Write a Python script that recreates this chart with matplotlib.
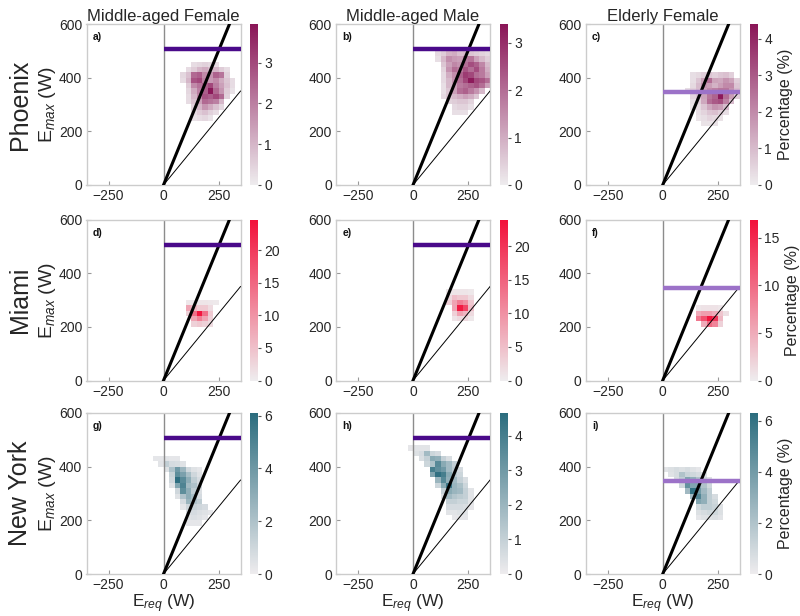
import numpy as np
import matplotlib
matplotlib.use('Agg')
import matplotlib.pyplot as plt
from matplotlib.colors import LinearSegmentedColormap

plt.rcParams['font.family'] = ['Liberation Sans', 'DejaVu Sans']
plt.rcParams['mathtext.fontset'] = 'custom'
plt.rcParams['mathtext.rm'] = 'Liberation Sans'
plt.rcParams['mathtext.it'] = 'Liberation Sans:italic'

# ---------------- data ----------------
cities = ["Phoenix", "Miami", "New York"]
groups = ["Middle-aged Female", "Middle-aged Male", "Elderly Female"]
panel_letters = ["a)", "b)", "c)", "d)", "e)", "f)", "g)", "h)", "i)"]
emax_limits = [505, 505, 345]          # horizontal E_max line per group
cbar_max = [[3.95, 3.4, 4.4], [24.7, 24.0, 16.9], [6.1, 4.65, 6.3]]
bin_w = 25   # W, E_req bin width
bin_h = 20   # W, E_max bin height

# each grid: first x edge, top row lower edge, rows listed from top to bottom (percent)
a_x0, a_ytop = 75, 440
a_vals = [
    [0, 0, 0.3, 0.4, 0.5, 0.4, 0.3, 0, 0, 0],
    [0, 0.3, 0.6, 1.0, 1.2, 0.9, 1.0, 0.6, 0.3, 0],
    [0.4, 0.8, 2.4, 2.6, 1.8, 1.6, 2.5, 2.2, 0.5, 0],
    [0.3, 1.0, 2.8, 3.0, 2.0, 1.5, 1.8, 1.2, 0.7, 0.3],
    [0, 0.6, 1.8, 2.2, 2.6, 3.0, 2.0, 1.4, 0.8, 0.3],
    [0, 0.4, 1.2, 2.0, 2.6, 3.9, 2.4, 1.6, 0.6, 0.2],
    [0, 0.3, 1.0, 1.8, 2.8, 2.6, 3.0, 2.4, 0.5, 0],
    [0, 0.3, 0.8, 1.4, 2.4, 2.2, 2.0, 1.0, 0, 0],
    [0, 0, 0.5, 1.0, 1.6, 1.2, 0.8, 0.4, 0, 0],
    [0, 0, 0.3, 0.6, 0.8, 0.5, 0.3, 0, 0, 0],
    [0, 0, 0.2, 0.3, 0.4, 0.2, 0, 0, 0, 0],
]
b_x0, b_ytop = 100, 480
b_vals = [
    [0.3, 0.5, 0.9, 1.0, 0.7, 0.8, 0.6, 0.5, 0.4, 0.3],
    [0.2, 0.8, 1.5, 1.3, 1.2, 1.8, 1.9, 1.2, 0.8, 0.5],
    [0, 0.6, 1.2, 1.6, 1.4, 2.0, 2.5, 2.2, 1.6, 0.8],
    [0, 0.4, 1.4, 2.0, 1.8, 2.4, 2.0, 2.5, 1.8, 1.0],
    [0, 0.3, 1.0, 1.5, 2.2, 2.8, 2.6, 2.0, 1.8, 1.2],
    [0, 0.3, 0.8, 1.4, 2.0, 2.6, 3.3, 2.6, 2.4, 2.0],
    [0, 0.2, 0.8, 1.2, 1.8, 2.0, 2.2, 2.4, 2.0, 1.2],
    [0, 0.2, 0.6, 1.2, 2.0, 2.2, 1.8, 1.4, 0.8, 0],
    [0, 0.3, 0.6, 0.8, 1.0, 1.2, 1.0, 0.6, 0, 0],
    [0, 0, 0.4, 0.5, 0.6, 0.6, 0.4, 0, 0, 0],
    [0, 0, 0, 0.3, 0.4, 0.4, 0.2, 0, 0, 0],
    [0, 0, 0, 0.2, 0.2, 0.2, 0, 0, 0, 0],
]
c_x0, c_ytop = 100, 400
c_vals = [
    [0, 0.3, 0.4, 0.6, 0.8, 0.6, 0.8, 0.9, 0.6, 0],
    [0, 0.3, 0.8, 1.5, 2.6, 1.5, 1.4, 1.8, 1.5, 0.6],
    [0, 0.4, 1.0, 1.8, 1.6, 1.2, 1.6, 2.0, 2.0, 0.8],
    [0.3, 0.6, 1.0, 1.6, 2.0, 2.2, 2.4, 2.4, 1.8, 1.0],
    [0, 0.5, 0.8, 1.5, 2.4, 2.8, 4.3, 2.6, 1.6, 0.6],
    [0, 0.3, 0.6, 1.4, 2.6, 3.0, 3.2, 2.2, 1.0, 0],
    [0, 0.2, 0.4, 0.8, 1.4, 1.8, 1.6, 1.0, 0, 0],
    [0, 0, 0.3, 0.5, 0.8, 0.9, 0.6, 0.3, 0, 0],
    [0, 0, 0.2, 0.3, 0.5, 0.4, 0.2, 0, 0, 0],
    [0, 0, 0, 0.2, 0.2, 0.2, 0, 0, 0, 0],
]
d_x0, d_ytop = 100, 280
d_vals = [
    [0.6, 0.8, 0.8, 0.8, 0.6, 0.4],
    [8, 6, 4, 4, 2, 0],
    [3, 14, 24, 14, 4, 0],
    [0, 8, 12, 8, 3, 0],
    [0, 3, 4, 3, 2, 0],
]
e_x0, e_ytop = 150, 320
e_vals = [
    [0.5, 0.8, 0.8, 0.8, 0.5, 0],
    [2, 5, 4, 4, 2, 0],
    [3, 8, 12, 10, 4, 0],
    [0, 8, 23, 18, 5, 0],
    [0, 3, 8, 6, 2, 0],
    [0, 1, 2, 2, 0.5, 0],
]
f_x0, f_ytop = 150, 260
f_vals = [
    [0.5, 0.8, 0.8, 0.8, 0.5, 0],
    [5, 6, 6, 5, 3, 1],
    [9, 12, 16.5, 14, 4, 0],
    [0, 5, 10, 8, 2, 0],
]
g_x0, g_ytop = -50, 420
g_vals = [
    [0.3, 0.3, 0.4, 0.3, 0.3, 0, 0, 0, 0, 0, 0],
    [0, 0.4, 1.4, 0.8, 0.7, 0.5, 0, 0, 0, 0, 0],
    [0, 0, 0.5, 2.0, 4.0, 2.6, 1.0, 0.5, 0.3, 0, 0],
    [0, 0, 0, 1.2, 4.5, 3.6, 2.2, 1.0, 0.5, 0, 0],
    [0, 0, 0, 1.0, 6.0, 4.6, 3.0, 1.5, 0.8, 0, 0],
    [0, 0, 0, 0.5, 3.4, 5.0, 2.4, 2.0, 1.0, 0, 0],
    [0, 0, 0, 0, 1.0, 4.5, 3.0, 1.5, 0.6, 0, 0],
    [0, 0, 0, 0, 0.5, 2.0, 3.0, 2.2, 0.8, 0, 0],
    [0, 0, 0, 0, 0, 0.8, 2.6, 2.0, 1.5, 0, 0],
    [0, 0, 0, 0, 0, 0.3, 1.0, 1.2, 1.0, 0.8, 0],
    [0, 0, 0, 0, 0, 0, 0.6, 0.8, 0.6, 0.5, 0.3],
    [0, 0, 0, 0, 0, 0, 0.5, 0.6, 0.5, 0.3, 0],
    [0, 0, 0, 0, 0, 0, 0.3, 0.3, 0.3, 0, 0],
]
h_x0, h_ytop = -25, 460
h_vals = [
    [0.2, 0.3, 0.3, 0.3, 0, 0, 0, 0, 0, 0, 0, 0],
    [0, 0.4, 0.6, 1.8, 0.8, 0.6, 0, 0, 0, 0, 0, 0],
    [0, 0, 0.5, 1.0, 2.4, 2.2, 1.0, 0.5, 0, 0, 0, 0],
    [0, 0, 0, 0.8, 1.5, 3.6, 2.4, 1.8, 1.0, 0, 0, 0],
    [0, 0, 0, 0, 4.0, 3.4, 3.0, 1.8, 1.2, 0.6, 0, 0],
    [0, 0, 0, 0, 2.6, 4.5, 4.0, 2.4, 1.2, 0.8, 0, 0],
    [0, 0, 0, 0, 0, 2.0, 3.6, 2.2, 1.8, 1.0, 0.5, 0],
    [0, 0, 0, 0, 0, 0.8, 2.4, 4.2, 2.0, 1.6, 0.8, 0],
    [0, 0, 0, 0, 0, 0, 1.0, 2.4, 2.0, 1.8, 1.0, 0.3],
    [0, 0, 0, 0, 0, 0, 0.5, 1.8, 1.4, 1.2, 1.0, 0.3],
    [0, 0, 0, 0, 0, 0, 0, 1.0, 1.0, 0.8, 0.8, 0.3],
    [0, 0, 0, 0, 0, 0, 0, 0.6, 0.6, 0.6, 0.5, 0.2],
    [0, 0, 0, 0, 0, 0, 0, 0.3, 0.3, 0.4, 0.3, 0],
    [0, 0, 0, 0, 0, 0, 0, 0, 0.2, 0.2, 0.2, 0],
]
i_x0, i_ytop = 0, 380
i_vals = [
    [0.4, 0.6, 0.8, 0.6, 0.8, 0.5, 0.3, 0, 0, 0, 0],
    [0, 0.5, 0.8, 2.0, 1.2, 1.0, 0.8, 0.5, 0, 0, 0],
    [0, 0, 0.8, 1.5, 3.5, 3.0, 2.0, 1.0, 0.5, 0, 0],
    [0, 0, 0, 1.0, 4.5, 3.5, 3.5, 2.0, 1.0, 0, 0],
    [0, 0, 0, 0, 2.5, 6.0, 4.0, 2.5, 1.5, 0, 0],
    [0, 0, 0, 0, 0, 2.5, 5.0, 3.0, 1.5, 0.8, 0],
    [0, 0, 0, 0, 0, 0, 3.5, 3.0, 1.5, 1.0, 0],
    [0, 0, 0, 0, 0, 0, 1.0, 1.5, 1.5, 1.2, 0.5],
    [0, 0, 0, 0, 0, 0, 0.6, 0.8, 1.0, 1.0, 0.6],
    [0, 0, 0, 0, 0, 0, 0.3, 0.5, 0.5, 0.6, 0.4],
]

grids = [
    [(a_x0, a_ytop, a_vals), (b_x0, b_ytop, b_vals), (c_x0, c_ytop, c_vals)],
    [(d_x0, d_ytop, d_vals), (e_x0, e_ytop, e_vals), (f_x0, f_ytop, f_vals)],
    [(g_x0, g_ytop, g_vals), (h_x0, h_ytop, h_vals), (i_x0, i_ytop, i_vals)],
]

# ---------------- style ----------------
city_colors = ['#8a1557', '#f2103a', '#2b6c7e']
cmaps = [LinearSegmentedColormap.from_list(c, ['#eeecee', col]) for c, col in zip(cities, city_colors)]
limit_colors = ['#4a0a8a', '#4a0a8a', '#9c72c8']

W, H = 800, 616
fig = plt.figure(figsize=(W / 100, H / 100), dpi=100)
col_left = [86.5, 336.0, 585.7]
ax_w = 154
cb_left = [250, 500, 750]
cb_w = 8
row_top = [24, 219.5, 413.0]
ax_h = 161


def rect(l, t, w, h):
    return [l / W, 1 - (t + h) / H, w / W, h / H]


tick_col = '#262626'
spine_col = '#cccccc'

for r in range(3):
    for c in range(3):
        ax = fig.add_axes(rect(col_left[c], row_top[r], ax_w, ax_h))
        cax = fig.add_axes(rect(cb_left[c], row_top[r], cb_w, ax_h))
        x0, ytop, vals = grids[r][c]
        arr = np.array(vals[::-1], dtype=float)
        nrow, ncol = arr.shape
        xe = x0 + bin_w * np.arange(ncol + 1)
        ye = (ytop - bin_h * (nrow - 1)) + bin_h * np.arange(nrow + 1)
        m = np.ma.masked_where(arr <= 0, arr)
        pcm = ax.pcolormesh(xe, ye, m, cmap=cmaps[r], vmin=0, vmax=cbar_max[r][c],
                            shading='flat', zorder=1)
        ax.axvline(0, color='#8c8c8c', lw=1.0, zorder=2)
        ax.plot([0, 300], [0, 600], color='black', lw=2.2, zorder=3)
        ax.plot([0, 350], [0, 350], color='black', lw=0.7, zorder=3)
        ax.plot([0, 350], [emax_limits[c], emax_limits[c]], color=limit_colors[c],
                lw=3.2, zorder=4, solid_capstyle='butt')
        ax.set_xlim(-350, 350)
        ax.set_ylim(0, 600)
        ax.set_xticks([-250, 0, 250])
        ax.set_yticks([0, 200, 400, 600])
        ax.tick_params(direction='in', length=3, width=0.8, color='#999999',
                       labelsize=10, labelcolor=tick_col, pad=3)
        for s in ax.spines.values():
            s.set_color(spine_col)
            s.set_linewidth(1.0)
        ax.text(0.04, 0.95, panel_letters[r * 3 + c], transform=ax.transAxes,
                fontsize=7.5, fontweight='bold', va='top', ha='left', color='#111111')
        if c == 0:
            ax.set_ylabel('E$_{max}$ (W)', fontsize=14, color=tick_col, labelpad=1)
        if r == 2:
            ax.set_xlabel('E$_{req}$ (W)', fontsize=12.5, color=tick_col, labelpad=0)

        cb = fig.colorbar(pcm, cax=cax)
        cb.outline.set_visible(False)
        cax.tick_params(length=2.5, width=0.8, color='#555555', labelsize=10,
                        labelcolor=tick_col, pad=2)
        if c == 2:
            cb.set_label('Percentage (%)', fontsize=11.5, color=tick_col, labelpad=4)

for c in range(3):
    fig.text((col_left[c] + ax_w / 2) / W, 1 - 20.5 / H, groups[c], ha='center',
             va='baseline', fontsize=12, color=tick_col)
for r in range(3):
    fig.text(20 / W, 1 - (row_top[r] + ax_h / 2) / H, cities[r], rotation=90,
             ha='center', va='center', fontsize=18, color=tick_col)

fig.savefig('out.png', dpi=100)
